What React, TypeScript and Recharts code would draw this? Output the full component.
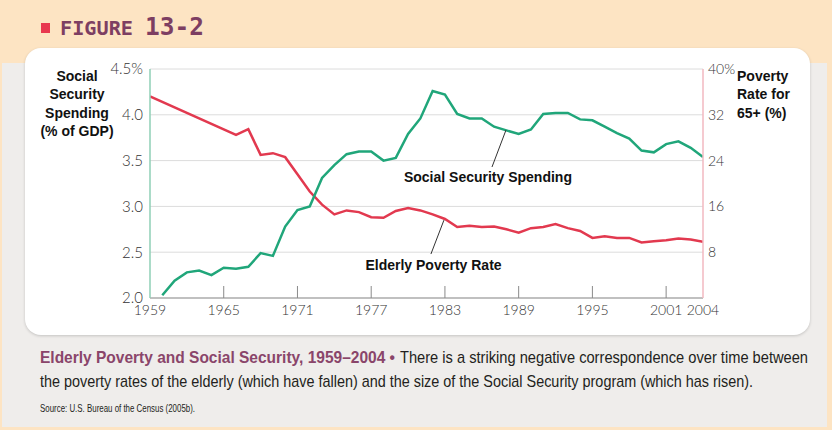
import React from 'react';
import { LineChart, Line, XAxis, YAxis, CartesianGrid, ReferenceLine, ReferenceDot } from 'recharts';

const years = [1959, 1960, 1961, 1962, 1963, 1964, 1965, 1966, 1967, 1968, 1969, 1970, 1971, 1972, 1973, 1974, 1975, 1976, 1977, 1978, 1979, 1980, 1981, 1982, 1983, 1984, 1985, 1986, 1987, 1988, 1989, 1990, 1991, 1992, 1993, 1994, 1995, 1996, 1997, 1998, 1999, 2000, 2001, 2002, 2003, 2004];

const socialSecuritySpending = [null, 2.03, 2.19, 2.28, 2.30, 2.25, 2.33, 2.32, 2.34, 2.49, 2.46, 2.78, 2.96, 3.00, 3.31, 3.45, 3.57, 3.60, 3.60, 3.50, 3.53, 3.79, 3.96, 4.26, 4.22, 4.01, 3.96, 3.96, 3.87, 3.83, 3.79, 3.84, 4.01, 4.02, 4.02, 3.95, 3.94, 3.87, 3.80, 3.74, 3.61, 3.59, 3.68, 3.71, 3.64, 3.54];

const elderlyPovertyRate = [35.2, null, null, null, null, null, null, 28.5, 29.5, 25.0, 25.3, 24.6, 21.6, 18.6, 16.3, 14.6, 15.3, 15.0, 14.1, 14.0, 15.2, 15.7, 15.3, 14.6, 13.8, 12.4, 12.6, 12.4, 12.5, 12.0, 11.4, 12.2, 12.4, 12.9, 12.2, 11.7, 10.5, 10.8, 10.5, 10.5, 9.7, 9.9, 10.1, 10.4, 10.2, 9.8];

const xTicks = [1959, 1965, 1971, 1977, 1983, 1989, 1995, 2001, 2004];
const leftTicks = [2.0, 2.5, 3.0, 3.5, 4.0, 4.5];
const rightTicks = [8, 16, 24, 32, 40];

const data = years.map((year, i) => ({
  year,
  spending: socialSecuritySpending[i],
  poverty: elderlyPovertyRate[i],
}));

const GREEN = '#20a67a';
const RED = '#e2394f';
const PLUM = '#8a456a';
const TICK_FONT = 'Lato, "Liberation Sans", Arial, sans-serif';
const BOLD_FONT = '"Liberation Sans", Arial, Helvetica, sans-serif';
const CAP_FONT = '"Liberation Sans", Arial, sans-serif';

const XTick = (props: any) => {
  const { x, y, payload } = props;
  const v = payload.value;
  const showLine = v !== 1959 && v !== 2004;
  return (
    <g>
      {showLine && <line x1={x} x2={x} y1={y - 12} y2={y} stroke="#8a8a8a" strokeWidth={1} />}
      <text x={x} y={y + 17} textAnchor="middle" fontFamily={TICK_FONT} fontWeight={300} fontSize={14} fill="#333">
        {v}
      </text>
    </g>
  );
};

const makeLabel = (text: string) => (p: any) => (
  <text x={p.cx} y={p.cy} textAnchor="middle" fontFamily={BOLD_FONT} fontWeight="bold" fontSize={14} fill="#111">
    {text}
  </text>
);

// condensed caption text: scaled horizontally
const Cap = ({ x, y, w, sx, size, bold, fill, children }: any) => (
  <g transform={`translate(${x},${y}) scale(${sx},1)`}>
    <text x={0} y={0} textLength={w / sx} lengthAdjust="spacingAndGlyphs" fontFamily={CAP_FONT} fontWeight={bold ? 'bold' : 'normal'} fontSize={size} fill={fill}>
      {children}
    </text>
  </g>
);

export default function App() {
  return (
    <div style={{ position: 'absolute', left: 0, top: 0, width: 832, height: 430, background: '#fde4c3', overflow: 'hidden', fontFamily: BOLD_FONT }}>
      <div style={{ position: 'absolute', left: 2, top: 63, width: 825, height: 364, background: '#efedeb' }} />
      <div style={{ position: 'absolute', left: 25, top: 48, width: 785, height: 287, background: '#ffffff', borderRadius: 16, boxShadow: '0 1px 3px rgba(0,0,0,0.18)' }} />
      <div style={{ position: 'absolute', left: 41, top: 23, width: 9, height: 10, background: '#e8384f' }} />
      <svg width={832} height={430} style={{ position: 'absolute', left: 0, top: 0 }}>
        <text x={60} y={34.5} textLength={73} lengthAdjust="spacingAndGlyphs" fontFamily='"DejaVu Sans Mono", monospace' fontWeight="bold" fontSize={19} fill="#7d3e62">FIGURE</text>
        <text x={145} y={35} textLength={59} lengthAdjust="spacingAndGlyphs" fontFamily='"DejaVu Sans Mono", monospace' fontWeight="bold" fontSize={25} fill="#7d3e62">13-2</text>

        <g fontFamily={BOLD_FONT} fontWeight="bold" fontSize={14} fill="#111" textAnchor="middle">
          <text x={77} y={81}>Social</text>
          <text x={77} y={99}>Security</text>
          <text x={77} y={117.5}>Spending</text>
          <text x={77} y={136}>(% of GDP)</text>
        </g>
        <g fontFamily={BOLD_FONT} fontWeight="bold" fontSize={14} fill="#111" textAnchor="start">
          <text x={737} y={81}>Poverty</text>
          <text x={737} y={99}>Rate for</text>
          <text x={737} y={117.5}>65+ (%)</text>
        </g>

        <Cap x={40} y={363} w={355} sx={0.85} size={16} bold fill={PLUM}>Elderly Poverty and Social Security, 1959–2004 •</Cap>
        <Cap x={400} y={363} w={408} sx={0.85} size={16} fill="#231f20">There is a striking negative correspondence over time between</Cap>
        <Cap x={40} y={387} w={713} sx={0.85} size={16} fill="#231f20">the poverty rates of the elderly (which have fallen) and the size of the Social Security program (which has risen).</Cap>
        <Cap x={40} y={412} w={155} sx={0.8} size={10} fill="#231f20">Source: U.S. Bureau of the Census (2005b).</Cap>
      </svg>
      <div style={{ position: 'absolute', left: 0, top: 0 }}>
        <LineChart width={832} height={430} data={data} margin={{ top: 69, right: 69, bottom: 102, left: 90 }}>
          <CartesianGrid yAxisId="left" vertical={false} horizontal={true} stroke="#dcdcdc" strokeWidth={1} />
          <XAxis
            dataKey="year"
            type="number"
            domain={[1959, 2004]}
            ticks={xTicks}
            interval={0}
            height={30}
            tickSize={0}
            tickMargin={0}
            tick={<XTick />}
            axisLine={{ stroke: '#b0b0b0', strokeWidth: 1.5 }}
            tickLine={false}
            allowDataOverflow
          />
          <YAxis
            yAxisId="left"
            orientation="left"
            domain={[2, 4.5]}
            ticks={leftTicks}
            interval={0}
            width={60}
            tickSize={0}
            tickMargin={7}
            tickLine={false}
            axisLine={{ stroke: '#8fcfb6', strokeWidth: 1.5 }}
            tick={{ fontFamily: TICK_FONT, fontWeight: 300, fontSize: 15, fill: '#333' }}
            tickFormatter={(v: number) => (v === 4.5 ? '4.5%' : v.toFixed(1))}
            allowDataOverflow
          />
          <YAxis
            yAxisId="right"
            orientation="right"
            domain={[0, 40]}
            ticks={rightTicks}
            interval={0}
            width={60}
            tickSize={0}
            tickMargin={5}
            tickLine={false}
            axisLine={{ stroke: '#f2b8c1', strokeWidth: 1.5 }}
            tick={{ fontFamily: TICK_FONT, fontWeight: 300, fontSize: 14, fill: '#333', textAnchor: 'start' }}
            tickFormatter={(v: number) => (v === 40 ? '40%' : String(v))}
            allowDataOverflow
          />
          <Line yAxisId="right" type="linear" dataKey="poverty" stroke={RED} strokeWidth={2.5} dot={false} connectNulls isAnimationActive={false} />
          <Line yAxisId="left" type="linear" dataKey="spending" stroke={GREEN} strokeWidth={2.5} dot={false} isAnimationActive={false} />
          <ReferenceLine yAxisId="left" segment={[{ x: 1987.97, y: 3.834 }, { x: 1986.83, y: 3.43 }]} stroke="#333" strokeWidth={1} ifOverflow="visible" />
          <ReferenceLine yAxisId="left" segment={[{ x: 1982.92, y: 2.85 }, { x: 1981.86, y: 2.48 }]} stroke="#333" strokeWidth={1} ifOverflow="visible" />
          <ReferenceDot yAxisId="left" x={1986.5} y={3.266} r={0} ifOverflow="visible" shape={makeLabel('Social Security Spending')} />
          <ReferenceDot yAxisId="left" x={1982.07} y={2.306} r={0} ifOverflow="visible" shape={makeLabel('Elderly Poverty Rate')} />
        </LineChart>
      </div>
    </div>
  );
}
